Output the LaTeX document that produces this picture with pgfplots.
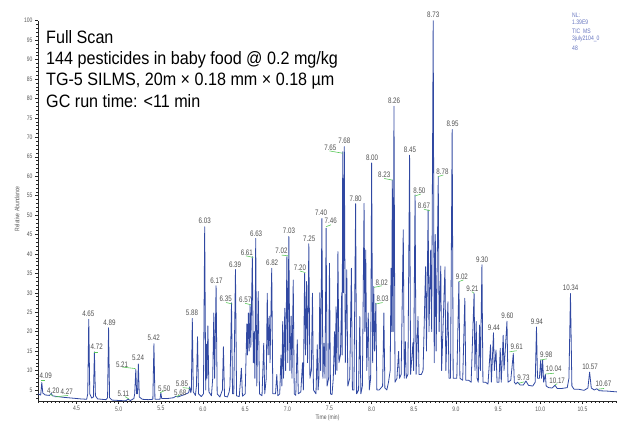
\documentclass[border=0pt]{standalone}
\usepackage{fontspec}
\setmainfont{Liberation Sans}
\newfontfamily\lab[FakeStretch=0.78]{Liberation Sans}
\newfontfamily\ttl[FakeStretch=0.9]{Liberation Sans}
\usepackage{pgfplots}
\pgfplotsset{compat=1.18}

\definecolor{trace}{RGB}{48,72,162}
\definecolor{pkgreen}{RGB}{90,200,90}
\definecolor{lblgray}{RGB}{80,80,80}
\definecolor{nlblue}{RGB}{100,115,190}

\tikzset{
  lbl/.style={font=\lab\fontsize{8}{9}\selectfont, text=lblgray, inner sep=0pt},
  grn/.style={draw=pkgreen, line width=0.6pt},
}

\begin{document}
\begin{tikzpicture}
\path[use as bounding box] (0,0) rectangle (617bp,423bp);
\begin{axis}[
  at={(38bp,22bp)}, anchor=south west,
  scale only axis, width=579bp, height=380.3bp,
  xmin=4.043, xmax=10.91, ymin=2.16, ymax=100,
  axis x line*=bottom, axis y line*=left,
  axis line style={-, black!85, line width=0.5pt},
  tick align=outside,
  major tick length=3bp, minor tick length=1.8bp,
  tick style={black!85, line width=0.4pt},
  xtick={4.5,5,5.5,6,6.5,7,7.5,8,8.5,9,9.5,10,10.5},
  xticklabels={4.5,5.0,5.5,6.0,6.5,7.0,7.5,8.0,8.5,9.0,9.5,10.0,10.5},
  minor xtick={4.05,4.1,...,10.9},
  ytick={5,10,...,100},
  minor ytick={3,4,...,99},
  /pgf/number format/assume math mode=true,
  tick label style={font=\lab\fontsize{6.5}{7}\selectfont, text=black!65},
  xticklabel style={yshift=1bp},
  yticklabel style={xshift=1bp},
  xlabel={Time (min)},
  ylabel={Relative Abundance},
  label style={font=\lab\fontsize{6.5}{7}\selectfont, text=black!65},
  xlabel style={at={(axis description cs:0.5,-0.045)}, anchor=center},
  ylabel style={at={(axis description cs:-0.036,0.505)}, anchor=center},
  clip=false,
]
\addplot[trace, line width=0.8pt, line join=round] coordinates {
(4.043,4.0) (4.075,3.7) (4.088,6.9) (4.100,4.2) (4.130,3.7) (4.180,3.6)
(4.200,4.1) (4.215,3.5) (4.270,3.3) (4.350,3.1) (4.450,2.9) (4.550,2.7)
(4.620,2.6) (4.633,4.0) (4.645,23.2) (4.657,4.0) (4.680,2.9) (4.700,3.2)
(4.712,14.8) (4.724,3.5) (4.750,2.7) (4.850,2.5) (4.868,3.0) (4.880,21.0)
(4.892,3.0) (4.920,2.4) (5.000,2.3) (5.080,2.2) (5.110,2.6) (5.140,2.3)
(5.180,2.8) (5.190,4.0) (5.203,10.3) (5.213,4.0) (5.223,4.0) (5.233,11.7)
(5.245,3.2) (5.280,2.6) (5.350,2.5) (5.405,2.6) (5.418,16.9) (5.430,2.6)
(5.490,2.6) (5.500,4.3) (5.510,2.8) (5.580,2.8) (5.650,3.0) (5.680,3.4)
(5.700,3.2) (5.780,3.8) (5.830,4.3) (5.843,5.8) (5.855,4.3) (5.862,5.0)
(5.873,23.4) (5.885,4.5) (5.910,3.6) (5.922,6.0) (5.935,18.7) (5.947,4.0)
(5.980,3.3) (6.005,4.0) (6.020,47.0) (6.032,5.0) (6.040,16.8) (6.048,8.0)
(6.058,21.5) (6.070,4.5) (6.100,3.5) (6.115,8.0) (6.128,24.8) (6.138,8.0)
(6.155,31.8) (6.168,4.0) (6.200,3.2) (6.230,5.0) (6.242,16.1) (6.255,3.4)
(6.290,3.2) (6.310,4.5) (6.320,6.0) (6.338,27.4) (6.350,4.0) (6.365,4.0)
(6.385,36.0) (6.398,3.5) (6.430,3.3) (6.455,10.6) (6.468,3.4) (6.500,4.0)
(6.520,22.0) (6.528,14.0) (6.538,24.8) (6.548,15.0) (6.558,27.0) (6.567,16.0)
(6.585,39.3) (6.597,12.0) (6.607,20.0) (6.615,8.0) (6.625,44.0) (6.638,6.0)
(6.655,30.3) (6.670,4.0) (6.700,3.5) (6.720,17.0) (6.732,4.0) (6.750,8.0)
(6.762,29.9) (6.772,14.0) (6.785,24.0) (6.795,12.0) (6.815,36.3) (6.828,4.0)
(6.860,4.0) (6.875,9.0) (6.888,3.5) (6.910,4.0) (6.925,14.0) (6.935,6.0)
(6.945,22.6) (6.955,8.0) (6.970,26.0) (6.980,10.0) (6.995,39.3) (7.005,12.0)
(7.018,44.5) (7.030,10.0) (7.045,24.0) (7.055,8.0) (7.070,33.3) (7.082,4.0)
(7.100,3.6) (7.118,17.9) (7.130,4.0) (7.160,4.5) (7.180,12.0) (7.190,5.0)
(7.205,35.0) (7.215,14.0) (7.228,32.9) (7.240,12.0) (7.255,42.6) (7.268,8.0)
(7.285,10.0) (7.298,29.9) (7.310,5.0) (7.340,4.0) (7.355,16.6) (7.365,5.0)
(7.375,8.0) (7.385,30.0) (7.395,10.0) (7.410,49.1) (7.422,8.0) (7.435,17.0)
(7.447,8.0) (7.460,46.6) (7.472,6.0) (7.490,8.0) (7.500,37.6) (7.512,4.0)
(7.530,3.8) (7.545,8.0) (7.560,20.0) (7.570,9.0) (7.578,26.4) (7.588,10.0)
(7.600,40.6) (7.612,12.0) (7.630,14.0) (7.645,30.0) (7.650,14.0) (7.657,66.3)
(7.665,30.0) (7.676,67.6) (7.688,12.0) (7.705,35.9) (7.718,6.0) (7.740,8.0)
(7.760,36.3) (7.772,5.0) (7.790,5.0) (7.810,52.9) (7.822,4.0) (7.845,5.0)
(7.860,23.9) (7.872,4.0) (7.890,6.0) (7.910,53.0) (7.920,20.0) (7.930,41.0)
(7.942,10.0) (7.960,24.8) (7.972,5.0) (7.988,8.0) (8.000,63.4) (8.012,12.0)
(8.025,31.6) (8.035,15.0) (8.050,27.3) (8.062,5.0) (8.090,5.0) (8.110,5.5)
(8.130,6.0) (8.145,24.8) (8.157,5.5) (8.180,5.0) (8.200,7.0) (8.220,10.0)
(8.230,36.3) (8.238,20.0) (8.245,59.0) (8.255,20.0) (8.265,78.0) (8.277,7.0)
(8.300,8.0) (8.320,14.9) (8.330,8.0) (8.350,9.0) (8.375,46.2) (8.387,8.0)
(8.400,17.4) (8.410,8.0) (8.430,9.0) (8.450,65.4) (8.462,9.0) (8.490,17.2)
(8.498,10.0) (8.515,55.2) (8.527,9.0) (8.550,23.9) (8.562,9.0) (8.590,9.0)
(8.610,10.0) (8.640,36.7) (8.650,15.0) (8.670,51.3) (8.680,20.0) (8.700,41.0)
(8.712,20.0) (8.730,100.0) (8.742,12.0) (8.755,45.0) (8.765,15.0) (8.790,60.0)
(8.800,20.0) (8.820,36.9) (8.830,10.0) (8.870,36.7) (8.880,10.0) (8.905,27.7)
(8.917,8.0) (8.935,8.0) (8.955,72.0) (8.967,8.0) (8.990,8.0) (9.010,8.0)
(9.035,32.9) (9.047,8.0) (9.080,7.5) (9.105,28.6) (9.117,7.5) (9.150,7.5)
(9.180,7.0) (9.215,29.9) (9.225,10.0) (9.240,22.6) (9.250,8.0) (9.265,7.0)
(9.280,21.7) (9.290,10.0) (9.308,37.2) (9.320,7.0) (9.350,7.0) (9.380,6.5)
(9.410,16.6) (9.420,7.0) (9.445,19.7) (9.455,10.0) (9.475,15.3) (9.487,7.0)
(9.510,7.0) (9.525,15.7) (9.537,7.0) (9.560,19.1) (9.570,10.0) (9.605,22.7)
(9.617,7.0) (9.650,7.5) (9.680,14.4) (9.692,7.0) (9.710,6.5) (9.730,7.0)
(9.760,6.3) (9.800,6.3) (9.830,7.3) (9.860,6.2) (9.910,6.0) (9.940,7.0)
(9.955,21.2) (9.967,8.0) (9.990,8.0) (10.005,12.7) (10.015,8.0) (10.028,12.7)
(10.040,7.0) (10.060,9.0) (10.070,6.0) (10.100,5.6) (10.140,5.5) (10.175,6.2)
(10.200,5.4) (10.260,5.4) (10.320,5.6) (10.340,8.0) (10.358,29.8) (10.375,6.0)
(10.400,5.2) (10.450,5.2) (10.520,4.9) (10.565,5.5) (10.585,9.6) (10.605,5.5)
(10.640,5.0) (10.670,5.3) (10.700,4.8) (10.800,4.7) (10.910,4.5)
};
% green leader lines
\draw[grn] (axis cs:4.078,7.6) -- (axis cs:4.126,7.6);
\draw[grn] (axis cs:4.185,3.9) -- (axis cs:4.217,3.5);
\draw[grn] (axis cs:4.244,3.2) -- (axis cs:4.400,3.6);
\draw[grn] (axis cs:4.710,14.8) -- (axis cs:4.750,14.8);
\draw[grn] (axis cs:5.075,3.3) -- (axis cs:5.120,2.7);
\draw[grn] (axis cs:5.040,10.9) -- (axis cs:5.197,10.5);
\draw[grn] (axis cs:5.490,4.3) -- (axis cs:5.540,4.8);
\draw[grn] (axis cs:5.680,3.3) -- (axis cs:5.730,3.7);
\draw[grn] (axis cs:5.760,5.6) -- (axis cs:5.846,5.4);
\draw[grn] (axis cs:6.273,27.5) -- (axis cs:6.348,27.1);
\draw[grn] (axis cs:6.498,27.3) -- (axis cs:6.570,26.9);
\draw[grn] (axis cs:6.510,39.5) -- (axis cs:6.597,39.1);
\draw[grn] (axis cs:6.933,39.7) -- (axis cs:7.012,39.5);
\draw[grn] (axis cs:7.150,35.6) -- (axis cs:7.214,35.2);
\draw[grn] (axis cs:7.459,47.0) -- (axis cs:7.518,47.5);
\draw[grn] (axis cs:7.500,66.5) -- (axis cs:7.657,65.9);
\draw[grn] (axis cs:8.030,31.4) -- (axis cs:8.120,31.8);
\draw[grn] (axis cs:8.050,27.1) -- (axis cs:8.130,27.5);
\draw[grn] (axis cs:8.150,59.4) -- (axis cs:8.245,59.0);
\draw[grn] (axis cs:8.515,54.9) -- (axis cs:8.582,55.4);
\draw[grn] (axis cs:8.620,51.5) -- (axis cs:8.690,51.1);
\draw[grn] (axis cs:8.790,59.9) -- (axis cs:8.850,60.3);
\draw[grn] (axis cs:9.037,32.9) -- (axis cs:9.088,33.3);
\draw[grn] (axis cs:9.187,30.3) -- (axis cs:9.215,29.9);
\draw[grn] (axis cs:9.633,14.8) -- (axis cs:9.720,15.1);
\draw[grn] (axis cs:9.740,6.7) -- (axis cs:9.810,7.1);
\draw[grn] (axis cs:10.000,12.7) -- (axis cs:10.077,13.0);
\draw[grn] (axis cs:10.060,9.1) -- (axis cs:10.160,9.3);
\draw[grn] (axis cs:10.175,6.3) -- (axis cs:10.200,6.6);
\draw[grn] (axis cs:10.690,5.2) -- (axis cs:10.757,5.4);
% peak labels
\node[lbl] at (axis cs:4.134,8.6) {4.09};
\node[lbl] at (axis cs:4.224,4.9) {4.20};
\node[lbl] at (axis cs:4.383,4.5) {4.27};
\node[lbl] at (axis cs:4.640,24.6) {4.65};
\node[lbl] at (axis cs:4.740,16.0) {4.72};
\node[lbl] at (axis cs:4.890,22.3) {4.89};
\node[lbl] at (axis cs:5.055,4.1) {5.11};
\node[lbl] at (axis cs:5.040,11.6) {5.21};
\node[lbl] at (axis cs:5.230,13.2) {5.24};
\node[lbl] at (axis cs:5.415,18.4) {5.42};
\node[lbl] at (axis cs:5.540,5.4) {5.50};
\node[lbl] at (axis cs:5.730,4.4) {5.68};
\node[lbl] at (axis cs:5.750,6.6) {5.85};
\node[lbl] at (axis cs:5.870,24.9) {5.88};
\node[lbl] at (axis cs:6.020,48.5) {6.03};
\node[lbl] at (axis cs:6.160,33.0) {6.17};
\node[lbl] at (axis cs:6.270,28.4) {6.35};
\node[lbl] at (axis cs:6.380,37.3) {6.39};
\node[lbl] at (axis cs:6.500,28.2) {6.57};
\node[lbl] at (axis cs:6.520,40.4) {6.61};
\node[lbl] at (axis cs:6.630,45.1) {6.63};
\node[lbl] at (axis cs:6.820,37.6) {6.82};
\node[lbl] at (axis cs:6.930,40.8) {7.02};
\node[lbl] at (axis cs:7.020,45.9) {7.03};
\node[lbl] at (axis cs:7.150,36.5) {7.20};
\node[lbl] at (axis cs:7.260,44.0) {7.25};
\node[lbl] at (axis cs:7.400,50.5) {7.40};
\node[lbl] at (axis cs:7.515,48.5) {7.46};
\node[lbl] at (axis cs:7.510,67.4) {7.65};
\node[lbl] at (axis cs:7.676,69.0) {7.68};
\node[lbl] at (axis cs:7.810,54.3) {7.80};
\node[lbl] at (axis cs:8.005,64.8) {8.00};
\node[lbl] at (axis cs:8.120,32.6) {8.02};
\node[lbl] at (axis cs:8.130,28.4) {8.03};
\node[lbl] at (axis cs:8.150,60.3) {8.23};
\node[lbl] at (axis cs:8.266,79.4) {8.26};
\node[lbl] at (axis cs:8.455,66.8) {8.45};
\node[lbl] at (axis cs:8.566,56.3) {8.50};
\node[lbl] at (axis cs:8.620,52.4) {8.67};
\node[lbl] at (axis cs:8.730,101.5) {8.73};
\node[lbl] at (axis cs:8.840,61.2) {8.78};
\node[lbl] at (axis cs:8.960,73.4) {8.95};
\node[lbl] at (axis cs:9.070,34.0) {9.02};
\node[lbl] at (axis cs:9.195,31.1) {9.21};
\node[lbl] at (axis cs:9.310,38.6) {9.30};
\node[lbl] at (axis cs:9.450,21.1) {9.44};
\node[lbl] at (axis cs:9.610,24.1) {9.60};
\node[lbl] at (axis cs:9.720,16.2) {9.61};
\node[lbl] at (axis cs:9.800,8.2) {9.73};
\node[lbl] at (axis cs:9.960,22.6) {9.94};
\node[lbl] at (axis cs:10.070,14.0) {9.98};
\node[lbl] at (axis cs:10.160,10.4) {10.04};
\node[lbl] at (axis cs:10.200,7.4) {10.17};
\node[lbl] at (axis cs:10.360,31.2) {10.34};
\node[lbl] at (axis cs:10.590,11.0) {10.57};
\node[lbl] at (axis cs:10.750,6.6) {10.67};
\end{axis}
% title block
\begin{scope}[every node/.style={anchor=base west, inner sep=0pt,
  font=\ttl\fontsize{18}{21}\selectfont}]
\node at (46bp,379bp) {Full Scan};
\node at (46bp,358bp) {144 pesticides in baby food @ 0.2 mg/kg};
\node at (46bp,337bp) {TG-5 SILMS, 20m × 0.18 mm × 0.18 µm};
\node at (46bp,315.7bp) {GC run time: <11 min};
\end{scope}
% instrument info
\begin{scope}[every node/.style={anchor=west, inner sep=0pt,
  font=\lab\fontsize{6.5}{7}\selectfont, text=nlblue}]
\node at (572bp,408bp) {NL:};
\node at (572bp,400.3bp) {1.39E9};
\node at (572bp,391.3bp) {TIC\ \ MS};
\node at (572bp,383.7bp) {3july2104\_0};
\node at (572bp,374.7bp) {48};
\end{scope}
\end{tikzpicture}
\end{document}
